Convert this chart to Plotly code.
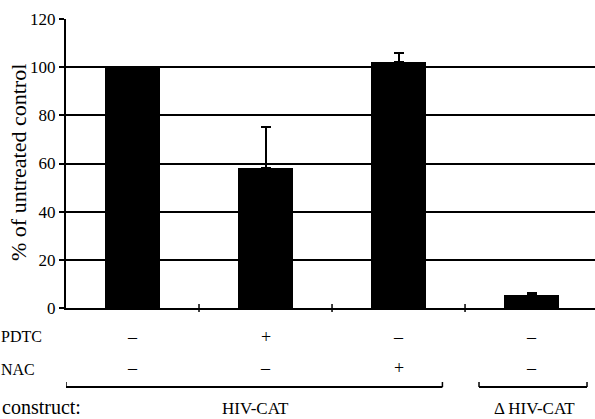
import plotly.graph_objects as go

# ---- data ----
categories = ["HIV-CAT", "HIV-CAT + PDTC", "HIV-CAT + NAC", "ΔHIV-CAT"]
values = [100, 58, 102, 5.5]
err_up = [0, 17, 4, 0.6]
pdtc_signs = ["–", "+", "–", "–"]
nac_signs = ["–", "–", "+", "–"]
y_ticks = [0, 20, 40, 60, 80, 100, 120]
construct_labels = ["HIV-CAT", "Δ HIV-CAT"]
y_title = "% of untreated control"

FONT = "Liberation Serif"
W, H = 595, 419
ML, MR, MT, MB = 66, 0, 19, 111
PH = H - MT - MB
PW = W - ML - MR


def py(pix):
    """pixel y (from top) -> paper y"""
    return (H - MB - pix) / PH


def px(pix):
    return (pix - ML) / PW


fig = go.Figure()
fig.add_trace(go.Bar(
    x=categories, y=values, width=0.41,
    marker=dict(color="black", line=dict(width=0)),
    error_y=dict(type="data", symmetric=False, array=err_up,
                 arrayminus=[0] * len(err_up), color="black",
                 thickness=2, width=5),
    hoverinfo="skip",
))

shapes = []
# crossing ticks at category boundaries
for b in [0.5, 1.5, 2.5]:
    shapes.append(dict(type="line", xref="x", yref="paper", x0=b, x1=b,
                       y0=py(312), y1=py(304),
                       line=dict(color="black", width=1.5)))
# brackets
brackets = [(-0.5, 2.33), (2.605, 3.417)]
yb, ybt = py(387), py(382)
for (a, b) in brackets:
    shapes.append(dict(type="line", xref="x", yref="paper", x0=a, x1=b,
                       y0=yb, y1=yb, line=dict(color="black", width=1.8)))
    for e in (a, b):
        shapes.append(dict(type="line", xref="x", yref="paper", x0=e, x1=e,
                           y0=yb, y1=ybt, line=dict(color="black", width=1.5)))

sign_font = dict(family=FONT, size=18, color="black")
ann = []
for i, s in enumerate(pdtc_signs):
    ann.append(dict(x=categories[i], xref="x", y=py(337), yref="paper",
                    xanchor="center", yanchor="middle",
                    text=s, showarrow=False, font=sign_font))
for i, s in enumerate(nac_signs):
    ann.append(dict(x=categories[i], xref="x", y=py(368), yref="paper",
                    xanchor="center", yanchor="middle",
                    text=s, showarrow=False, font=sign_font))
lab_font = dict(family=FONT, size=16, color="black")
ann.append(dict(x=px(-1), xref="paper", xanchor="left", y=py(336), yref="paper",
                yanchor="middle", text="PDTC", showarrow=False, font=lab_font))
ann.append(dict(x=px(-1), xref="paper", xanchor="left", y=py(369), yref="paper",
                yanchor="middle", text="NAC", showarrow=False, font=lab_font))
ann.append(dict(x=px(0), xref="paper", xanchor="left", y=py(407), yref="paper",
                yanchor="middle", text="construct:", showarrow=False,
                font=dict(family=FONT, size=20, color="black")))
for lab, (a, b) in zip(construct_labels, brackets):
    ann.append(dict(x=(a + b) / 2 + 0.01, xref="x", y=py(408), yref="paper",
                    xanchor="center", yanchor="middle",
                    text=lab, showarrow=False,
                    font=dict(family=FONT, size=17, color="black")))
ann.append(dict(x=px(18), xref="paper", y=py(163), yref="paper",
                xanchor="center", yanchor="middle",
                text=y_title, textangle=-90, showarrow=False,
                font=dict(family=FONT, size=22, color="black")))

fig.update_layout(
    width=W, height=H,
    margin=dict(l=ML, r=MR, t=MT, b=MB, pad=0),
    paper_bgcolor="white", plot_bgcolor="white",
    font=dict(family=FONT, color="black"),
    showlegend=False,
    bargap=0,
    shapes=shapes,
    annotations=ann,
    xaxis=dict(type="category", range=[-0.5, 3.477], showline=True,
               linecolor="black", linewidth=2, showgrid=False,
               showticklabels=False, ticks="", zeroline=False),
    yaxis=dict(range=[0, 120], tickvals=y_ticks, showgrid=True,
               gridcolor="black", gridwidth=1.8, showline=True,
               linecolor="black", linewidth=2, ticks="outside",
               ticklen=5, tickwidth=1.5, tickcolor="black",
               tickfont=dict(family=FONT, size=17, color="black"),
               zeroline=False),
)

fig.write_html("out.html",
               config={"displayModeBar": False},
               post_script="document.body.style.margin='0';")
